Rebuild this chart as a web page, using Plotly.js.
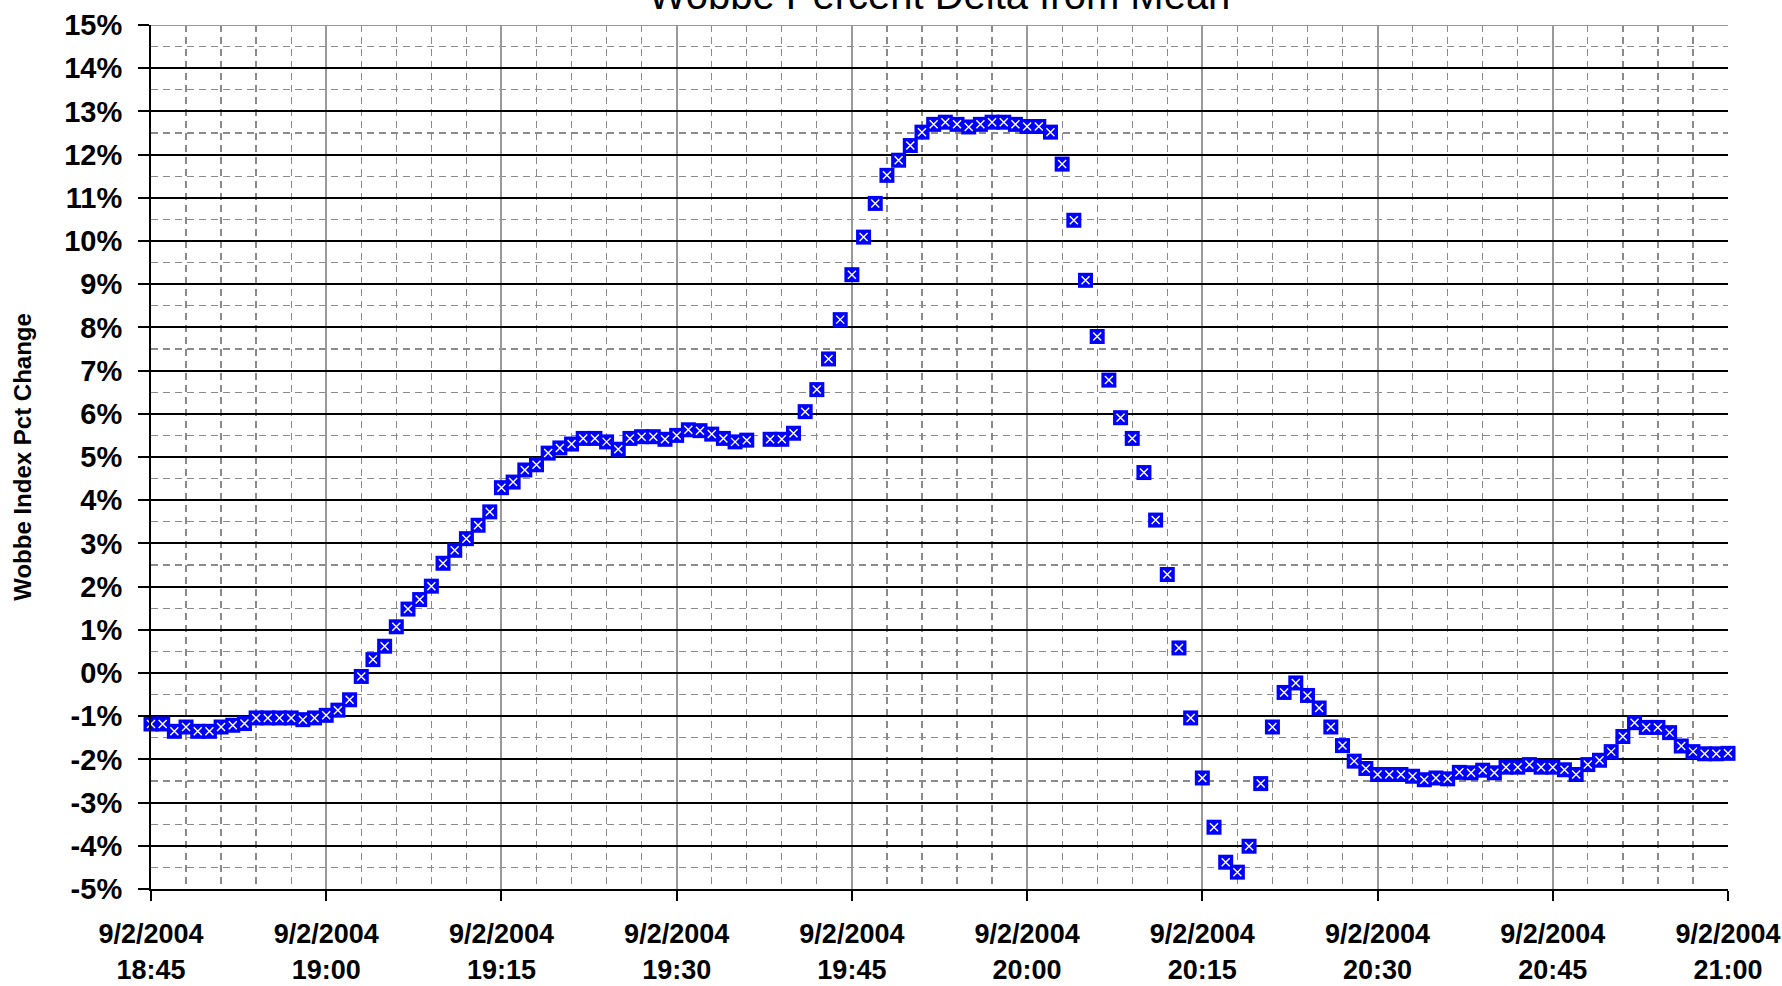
<!DOCTYPE html>
<html>
<head>
<meta charset="utf-8">
<script src="https://cdn.plot.ly/plotly-3.0.1.min.js"></script>
<style>
html,body{margin:0;padding:0;background:#ffffff;}
#chart{width:1782px;height:986px;}
</style>
</head>
<body>
<div id="chart"></div>
<script>
const chartTitle = 'Wobbe Percent Delta from Mean';
const yAxisTitle = 'Wobbe Index Pct Change';
const sampleDate = '2004-09-02';
const firstSample = '18:45';

// one sample per minute, 18:45 .. 21:00 (null = missing sample)
const wobbePct = [
  -1.18,-1.18,-1.35,-1.25,-1.35,-1.35,-1.25,-1.21,-1.17,-1.04,-1.04,-1.04,-1.04,-1.08,-1.04,
  -0.98,-0.86,-0.62,-0.08,0.31,0.62,1.07,1.48,1.70,2.01,2.54,2.84,3.11,3.42,3.73,
  4.29,4.42,4.70,4.82,5.09,5.21,5.30,5.43,5.43,5.35,5.18,5.43,5.47,5.47,5.41,
  5.50,5.63,5.61,5.53,5.43,5.35,5.39,null,5.41,5.41,5.55,6.05,6.56,7.27,8.18,
  9.22,10.09,10.87,11.52,11.87,12.21,12.52,12.70,12.75,12.70,12.64,12.70,12.75,12.75,12.70,
  12.65,12.65,12.52,11.78,10.48,9.09,7.79,6.78,5.91,5.43,4.64,3.54,2.28,0.58,-1.04,
  -2.43,-3.57,-4.38,-4.61,-4.01,-2.56,-1.25,-0.45,-0.23,-0.52,-0.81,-1.25,-1.68,-2.04,-2.21,
  -2.35,-2.35,-2.35,-2.39,-2.47,-2.43,-2.45,-2.30,-2.31,-2.25,-2.31,-2.18,-2.18,-2.12,-2.18,
  -2.18,-2.24,-2.35,-2.12,-2.02,-1.82,-1.47,-1.15,-1.26,-1.26,-1.38,-1.69,-1.82,-1.87,-1.87,
  -1.86
];

const xTickTimes = ['18:45','19:00','19:15','19:30','19:45','20:00','20:15','20:30','20:45','21:00'];
const xTickDate = '9/2/2004';
const yTickValues = [-5,-4,-3,-2,-1,0,1,2,3,4,5,6,7,8,9,10,11,12,13,14,15];

function sampleTime(i) {
  const parts = firstSample.split(':').map(Number);
  const t = parts[0] * 60 + parts[1] + i;
  return sampleDate + ' ' + String(Math.floor(t / 60)).padStart(2, '0') + ':' + String(t % 60).padStart(2, '0') + ':00';
}
const sampleTimes = wobbePct.map((_, i) => sampleTime(i));

const fontFamily = 'Liberation Sans, Arial, Helvetica, sans-serif';
const xStart = sampleDate + ' ' + xTickTimes[0];
const xEnd = sampleDate + ' ' + xTickTimes[xTickTimes.length - 1];

const traces = [
  {
    x: sampleTimes, y: wobbePct, type: 'scatter', mode: 'markers',
    marker: {symbol: 'square', size: 15, color: '#0000ff', line: {width: 0}},
    cliponaxis: false, hoverinfo: 'x+y', showlegend: false
  },
  {
    x: sampleTimes, y: wobbePct, type: 'scatter', mode: 'markers',
    marker: {symbol: 'x-thin', size: 8, color: '#ffffff', line: {width: 1.4, color: '#ffffff'}},
    cliponaxis: false, hoverinfo: 'skip', showlegend: false
  }
];

const layout = {
  width: 1782, height: 986,
  paper_bgcolor: '#ffffff', plot_bgcolor: '#ffffff',
  margin: {l: 151, r: 54, t: 25, b: 97},
  font: {family: fontFamily, color: '#000000'},
  title: {
    text: chartTitle,
    font: {family: fontFamily, size: 40, color: '#000000'},
    xref: 'paper', x: 0.5, xanchor: 'center',
    yref: 'container', y: 0.991, yanchor: 'bottom'
  },
  showlegend: false,
  xaxis: {
    type: 'date',
    range: [xStart, xEnd],
    tickmode: 'array',
    tickvals: xTickTimes.map(t => sampleDate + ' ' + t),
    ticktext: xTickTimes.map(t => xTickDate + '<br>' + t),
    tickfont: {family: fontFamily, size: 27, color: '#000000', weight: 'bold'},
    ticks: 'outside', ticklen: 10, tickwidth: 2, tickcolor: '#000000',
    ticklabelstandoff: 10,
    showline: true, linecolor: '#000000', linewidth: 2,
    showgrid: true, gridcolor: '#999999', gridwidth: 2,
    zeroline: false,
    minor: {
      dtick: 180000, tick0: xStart,
      showgrid: true, gridcolor: '#8a8a8a', gridwidth: 1.3, griddash: '7px,5px',
      ticks: ''
    },
    automargin: false,
    fixedrange: true
  },
  yaxis: {
    range: [-5, 15],
    tickmode: 'array',
    tickvals: yTickValues,
    ticktext: yTickValues.map(v => v + '%'),
    tickfont: {family: fontFamily, size: 29, color: '#000000', weight: 'bold'},
    ticks: 'outside', ticklen: 11, tickwidth: 2, tickcolor: '#000000',
    ticklabelstandoff: 10,
    showline: true, linecolor: '#000000', linewidth: 2,
    showgrid: true, gridcolor: '#000000', gridwidth: 2,
    zeroline: false,
    minor: {
      dtick: 0.5, tick0: 0,
      showgrid: true, gridcolor: '#8a8a8a', gridwidth: 1.3, griddash: '7px,5px',
      ticks: ''
    },
    title: {
      text: yAxisTitle,
      font: {family: fontFamily, size: 24, color: '#000000', weight: 'bold'},
      standoff: 26
    },
    automargin: false,
    fixedrange: true
  },
  shapes: [
    {type: 'line', xref: 'paper', yref: 'y', x0: 0, x1: 1, y0: 15, y1: 15,
     line: {color: '#999999', width: 2}, layer: 'above'}
  ]
};

Plotly.newPlot('chart', traces, layout, {displayModeBar: false, staticPlot: true});
</script>
</body>
</html>
